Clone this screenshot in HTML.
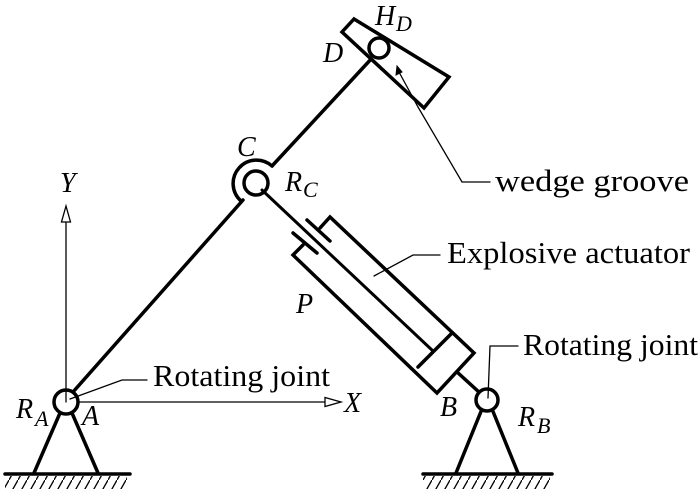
<!DOCTYPE html>
<html><head><meta charset="utf-8"><style>
html,body{margin:0;padding:0;background:#fff;}
svg{display:block}
text{font-family:"Liberation Serif",serif;fill:#000;}
.i{font-style:italic}
</style></head><body>
<svg width="700" height="489" viewBox="0 0 700 489" xmlns="http://www.w3.org/2000/svg">
<defs>
<pattern id="h" width="9" height="16" patternUnits="userSpaceOnUse">
<line x1="9" y1="0" x2="0" y2="16" stroke="#000" stroke-width="1.3"/>
</pattern>
</defs>
<g stroke="#000" fill="none" stroke-linecap="round" stroke-linejoin="miter">
<line x1="66" y1="402" x2="66" y2="222" stroke-width="1.3"/>
<polygon points="66,206 61.5,222 70.5,222" stroke-width="1.3" fill="#fff"/>
<line x1="66" y1="402" x2="325" y2="402" stroke-width="1.3"/>
<polygon points="341,402 325,397.5 325,406.5" stroke-width="1.3" fill="#fff"/>
<line x1="60" y1="413" x2="34" y2="473" stroke-width="3.5"/>
<line x1="72" y1="413" x2="98" y2="473" stroke-width="3.5"/>
<line x1="5" y1="474" x2="130" y2="474" stroke-width="3.5"/>
<rect x="5" y="476" width="122" height="13" fill="url(#h)" stroke="none"/>
<line x1="482" y1="409" x2="456" y2="473" stroke-width="3.5"/>
<line x1="492" y1="409" x2="518" y2="473" stroke-width="3.5"/>
<line x1="423" y1="474" x2="552" y2="474" stroke-width="3.5"/>
<rect x="423" y="476" width="127" height="13" fill="url(#h)" stroke="none"/>
<line x1="73" y1="392" x2="243" y2="200" stroke-width="3.5"/>
<line x1="272" y1="166" x2="373" y2="57" stroke-width="3.5"/>
<circle cx="66" cy="402" r="12" stroke-width="3.5" fill="#fff"/>
<line x1="66" y1="402" x2="66" y2="390" stroke-width="1.3"/>
<circle cx="256" cy="183" r="12" stroke-width="3.5" fill="#fff"/>
<path d="M 241 201 A 20 20 0 1 1 272 166" stroke-width="3.5"/>
<line x1="262" y1="190" x2="433" y2="351" stroke-width="3"/>
<polyline points="320,228 330,217 474,353 437,393 293,255 303,245" stroke-width="3.5"/>
<line x1="307" y1="220" x2="330" y2="241" stroke-width="3.5"/>
<line x1="293" y1="233" x2="317" y2="253" stroke-width="3.5"/>
<line x1="418" y1="367" x2="452" y2="333" stroke-width="3.5"/>
<line x1="457" y1="372" x2="480" y2="393" stroke-width="3.5"/>
<circle cx="487" cy="400" r="11" stroke-width="3.5" fill="#fff"/>
<polygon points="354,19 449,77 424,108 342,32" stroke-width="3.5" fill="#fff"/>
<circle cx="379" cy="48" r="10" stroke-width="3.5" fill="#fff"/>
<polyline points="490,182 462,182 418,107 399,72" stroke-width="1.3"/>
<polygon points="397,66 396,75 402,72" fill="#000" stroke-width="1"/>
<polyline points="147,380 122,380 70,399" stroke-width="1.3"/>
<polyline points="440,255 413,255 374,276" stroke-width="1.3"/>
<polyline points="518,346 490,346 488,398" stroke-width="1.3"/>
</g>
<g font-size="31">
<text x="153" y="386" textLength="177" lengthAdjust="spacingAndGlyphs">Rotating joint</text>
<text x="447" y="263" textLength="243" lengthAdjust="spacingAndGlyphs">Explosive actuator</text>
<text x="523" y="355" textLength="175" lengthAdjust="spacingAndGlyphs">Rotating joint</text>
<text x="495" y="191" textLength="194" lengthAdjust="spacingAndGlyphs">wedge groove</text>
</g>
<g font-size="28" class="i">
<text x="16" y="418" class="i">R</text><text x="35" y="426" font-size="22" class="i">A</text>
<text x="82" y="425" class="i">A</text>
<text x="60" y="192" class="i">Y</text>
<text x="344" y="412" class="i">X</text>
<text x="237" y="156" class="i">C</text>
<text x="285" y="191" class="i">R</text><text x="303" y="197" font-size="22" class="i">C</text>
<text x="323" y="62" class="i">D</text>
<text x="375" y="25" class="i">H</text><text x="396" y="31" font-size="22" class="i">D</text>
<text x="296" y="313" class="i">P</text>
<text x="440" y="416" class="i">B</text>
<text x="518" y="426" class="i">R</text><text x="537" y="433" font-size="22" class="i">B</text>
</g>
</svg>
</body></html>
